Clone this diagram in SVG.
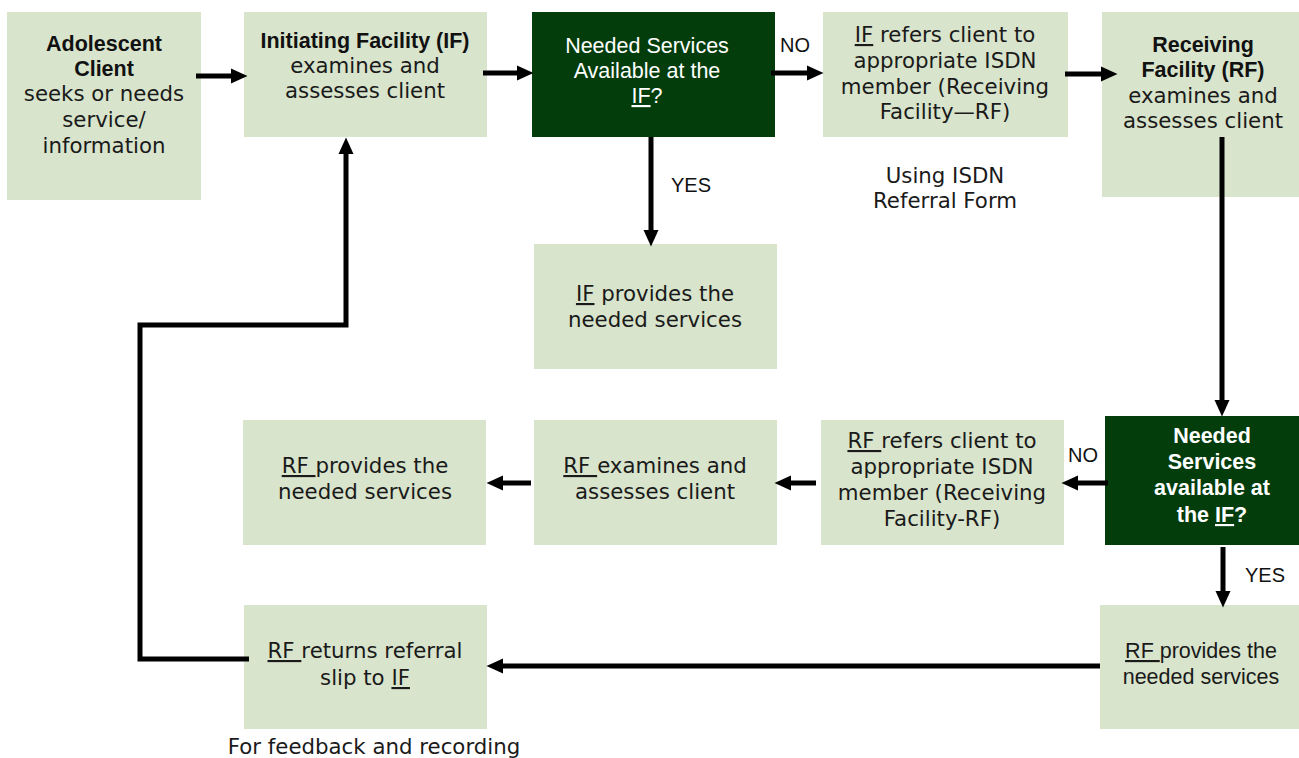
<svg xmlns="http://www.w3.org/2000/svg" width="1299" height="758" viewBox="0 0 1299 758">
<style>
.lb{fill:#D8E4CC}
.dk{fill:#043D0C}
.t{font-family:"DejaVu Sans",sans-serif;font-size:21.3px;fill:#1a1a1a;text-anchor:middle}
.b{font-family:"Liberation Sans",Arial,sans-serif;font-weight:bold;font-size:21.5px;fill:#111;text-anchor:middle}
.a{font-family:"Liberation Sans",Arial,sans-serif;font-size:21.5px;fill:#1a1a1a;text-anchor:middle}
.w{fill:#fff}
.lbl{font-family:"Liberation Sans",Arial,sans-serif;font-size:20px;fill:#111}
.u{text-decoration:underline}
.c{fill:none;stroke:#000;stroke-width:5}
</style>
<defs>
<marker id="ah" markerUnits="userSpaceOnUse" markerWidth="17" markerHeight="16" viewBox="0 0 17 16" refX="1" refY="8" orient="auto">
<path d="M0,0.5 L16.5,8 L0,15.5 z" fill="#000"/>
</marker>
</defs>

<g id="n-adolescent">
<rect class="lb" x="7" y="12" width="194" height="188"/>
<text class="b" x="104" y="51">Adolescent</text>
<text class="b" x="104" y="76">Client</text>
<text class="t" x="104" y="101">seeks or needs</text>
<text class="t" x="104" y="127">service/</text>
<text class="t" x="104" y="153">information</text>
</g>

<g id="n-if">
<rect class="lb" x="244" y="12" width="243" height="125"/>
<text class="b" x="365" y="48">Initiating Facility (IF)</text>
<text class="t" x="365" y="73">examines and</text>
<text class="t" x="365" y="98">assesses client</text>
</g>

<g id="n-decision1">
<rect class="dk" x="532" y="12" width="243" height="125"/>
<text class="a w" x="647" y="53">Needed Services</text>
<text class="a w" x="647" y="78">Available at the</text>
<text class="a w" x="647" y="103"><tspan class="u">IF</tspan>?</text>
</g>

<g id="n-if-refers">
<rect class="lb" x="823" y="12" width="245" height="125"/>
<text class="t" x="945" y="42"><tspan class="u">IF</tspan> refers client to</text>
<text class="t" x="945" y="68">appropriate ISDN</text>
<text class="t" x="945" y="94">member (Receiving</text>
<text class="t" x="945" y="119">Facility—RF)</text>
</g>

<g id="n-rf">
<rect class="lb" x="1102" y="12" width="197" height="185"/>
<text class="b" x="1203" y="52">Receiving</text>
<text class="b" x="1203" y="77">Facility (RF)</text>
<text class="t" x="1203" y="103">examines and</text>
<text class="t" x="1203" y="128">assesses client</text>
</g>

<g id="n-if-provides">
<rect class="lb" x="534" y="244" width="243" height="125"/>
<text class="t" x="655" y="301"><tspan class="u">IF</tspan> provides the</text>
<text class="t" x="655" y="327">needed services</text>
</g>

<g id="n-decision2">
<rect class="dk" x="1105" y="416" width="194" height="129"/>
<text class="b w" x="1212" y="443">Needed</text>
<text class="b w" x="1212" y="469">Services</text>
<text class="b w" x="1212" y="495">available at</text>
<text class="b w" x="1212" y="522">the <tspan class="u">IF</tspan>?</text>
</g>

<g id="n-rf-refers">
<rect class="lb" x="821" y="420" width="243" height="125"/>
<text class="t" x="942" y="448" xml:space="preserve"><tspan class="u">RF </tspan>refers client to</text>
<text class="t" x="942" y="474">appropriate ISDN</text>
<text class="t" x="942" y="500">member (Receiving</text>
<text class="t" x="942" y="526">Facility-RF)</text>
</g>

<g id="n-rf-examines">
<rect class="lb" x="534" y="420" width="243" height="125"/>
<text class="t" x="655" y="473" xml:space="preserve"><tspan class="u">RF </tspan>examines and</text>
<text class="t" x="655" y="499">assesses client</text>
</g>

<g id="n-rf-provides-left">
<rect class="lb" x="243" y="420" width="243" height="125"/>
<text class="t" x="365" y="473" xml:space="preserve"><tspan class="u">RF </tspan>provides the</text>
<text class="t" x="365" y="499">needed services</text>
</g>

<g id="n-rf-provides-right">
<rect class="lb" x="1100" y="605" width="199" height="124"/>
<text class="a" x="1201" y="658" xml:space="preserve"><tspan class="u">RF </tspan>provides the</text>
<text class="a" x="1201" y="684">needed services</text>
</g>

<g id="n-rf-returns">
<rect class="lb" x="244" y="605" width="243" height="124"/>
<text class="t" x="365" y="658" xml:space="preserve"><tspan class="u">RF </tspan>returns referral</text>
<text class="t" x="365" y="685">slip to <tspan class="u">IF</tspan></text>
</g>

<g id="connectors">
<line class="c" x1="196" y1="76" x2="232" y2="76" marker-end="url(#ah)"/>
<line class="c" x1="483" y1="73" x2="518" y2="73" marker-end="url(#ah)"/>
<line class="c" x1="771" y1="73" x2="808" y2="73" marker-end="url(#ah)"/>
<line class="c" x1="1065" y1="74" x2="1102" y2="74" marker-end="url(#ah)"/>
<line class="c" x1="651" y1="137" x2="651" y2="231" marker-end="url(#ah)"/>
<line class="c" x1="1222" y1="137" x2="1222" y2="401" marker-end="url(#ah)"/>
<line class="c" x1="1108" y1="483" x2="1077" y2="483" marker-end="url(#ah)"/>
<line class="c" x1="816" y1="483" x2="790" y2="483" marker-end="url(#ah)"/>
<line class="c" x1="531" y1="483" x2="502" y2="483" marker-end="url(#ah)"/>
<line class="c" x1="1223" y1="547" x2="1223" y2="592" marker-end="url(#ah)"/>
<line class="c" x1="1100" y1="666" x2="502" y2="666" marker-end="url(#ah)"/>
<polyline class="c" points="249,659 140,659 140,325 346,325 346,153" marker-end="url(#ah)"/>
</g>

<g id="labels">
<text class="lbl" x="780" y="52">NO</text>
<text class="lbl" x="671" y="192">YES</text>
<text class="t" x="945" y="183">Using ISDN</text>
<text class="t" x="945" y="208">Referral Form</text>
<text class="lbl" x="1068" y="462">NO</text>
<text class="lbl" x="1245" y="582">YES</text>
<text class="t" x="374" y="754">For feedback and recording</text>
</g>
</svg>
